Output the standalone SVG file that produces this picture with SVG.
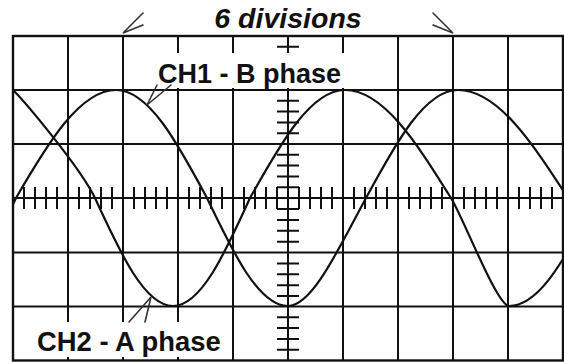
<svg xmlns="http://www.w3.org/2000/svg" width="564" height="362" viewBox="0 0 564 362">
<defs>
<style>
.grid{stroke:#111;stroke-width:2;fill:none}
.border{stroke:#111;stroke-width:2.4;fill:none}
.tick{stroke:#111;stroke-width:2}
.wave{stroke:#111;stroke-width:2.2;fill:none}
.arr{stroke:#333;stroke-width:1.6;fill:none;stroke-linecap:round}
.lbl{font-family:"Liberation Sans",Arial,sans-serif;font-weight:bold;fill:#111}
.mask{fill:#fff}
</style>
<clipPath id="scr"><rect x="13" y="36" width="550" height="325"/></clipPath>
</defs>
<rect width="564" height="362" fill="#fff"/>
<g id="grid">
<path class="grid" d="M68 36V361M123 36V361M178 36V361M233 36V361M288 36V361M343 36V361M398 36V361M453 36V361M508 36V361M13 90H563M13 144H563M13 198H563M13 252.5H563M13 306.5H563"/>
<rect class="border" x="13" y="36" width="550" height="324.5"/>
</g>
<g id="ticks">
<path class="tick" d="M24 187V209M35 187V209M46 187V209M57 187V209M79 187V209M90 187V209M101 187V209M112 187V209M134 187V209M145 187V209M156 187V209M167 187V209M189 187V209M200 187V209M211 187V209M222 187V209M244 187V209M255 187V209M266 187V209M277 187V209M299 187V209M310 187V209M321 187V209M332 187V209M354 187V209M365 187V209M376 187V209M387 187V209M409 187V209M420 187V209M431 187V209M442 187V209M464 187V209M475 187V209M486 187V209M497 187V209M519 187V209M530 187V209M541 187V209M552 187V209"/>
<path class="tick" d="M277 46.8H299M277 57.6H299M277 68.4H299M277 79.2H299M277 100.8H299M277 111.6H299M277 122.4H299M277 133.2H299M277 154.8H299M277 165.6H299M277 176.4H299M277 187.2H299M277 209H299M277 219.9H299M277 230.8H299M277 241.7H299M277 263.4H299M277 274.3H299M277 285.2H299M277 296.1H299M277 317.3H299M277 328.1H299M277 338.9H299M277 349.7H299"/>
</g>
<g id="label-boxes">
<rect class="mask" x="126" y="53" width="270" height="35"/>
<rect class="mask" x="20" y="322" width="207" height="35"/>
</g>
<g id="waves" clip-path="url(#scr)">
<path id="ch1-b-phase" class="wave" d="M-63 306C-34.8 306 -10.4 253.3 16 198C48 142.7 80 90 116 90C148.9 90 177.3 142.7 207 198C233.4 253.3 258.7 306 288 306C312 306 338 250 366 198C396 142.7 424.7 90 458 90C497.8 90 532.1 142.7 568 198"/>
<path id="ch2-a-phase" class="wave" d="M13 90C25 102 80 167 95 198C120.4 253.3 144.8 306 173 306C200.9 306 224.9 253.3 250 198C281 142.7 310.6 90 345 90C383.4 90 416.4 142.7 451 198C463 217 497 306 509 306C541.6 306 566.4 253.3 599 198"/>
</g>
<g id="connectors">
<path class="arr" d="M143 13L123 33L143 25"/>
<path class="arr" d="M433 13L453 33L433 25"/>
<path class="arr" d="M157 85L147 105L171 85"/>
<path class="arr" d="M129 322L151 297L145 322"/>
</g>
<g id="labels">
<text class="lbl" x="288" y="28" font-size="28.5" font-style="italic" text-anchor="middle">6 divisions</text>
<text class="lbl" x="158" y="83" font-size="27">CH1 - B phase</text>
<text class="lbl" x="37" y="351" font-size="27.4">CH2 - A phase</text>
</g>
</svg>
